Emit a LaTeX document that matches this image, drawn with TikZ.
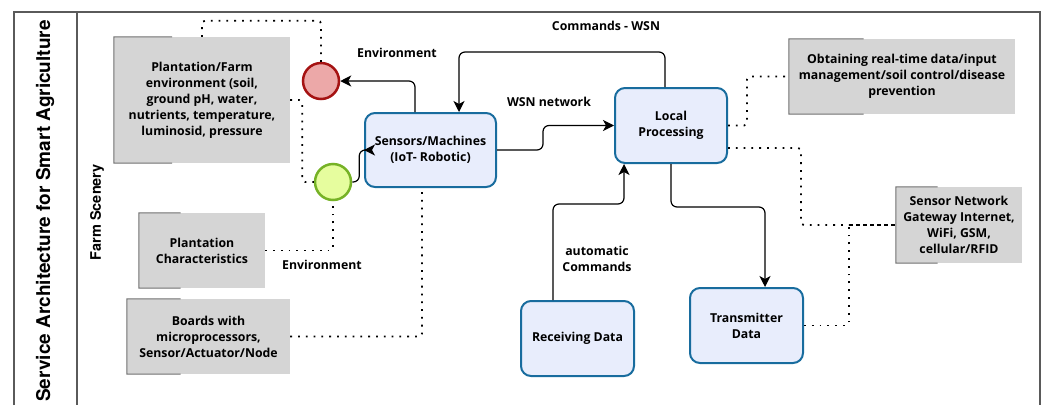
\documentclass[tikz,border=0pt]{standalone}
\usepackage{fontspec}
\setmainfont{Open Sans}
\newfontfamily\titlefont{TeX Gyre Heros}
\usetikzlibrary{arrows.meta,calc}
\definecolor{grayfill}{RGB}{213,213,213}
\definecolor{grayedge}{RGB}{110,110,110}
\definecolor{blueedge}{RGB}{24,108,158}
\definecolor{bluefill}{RGB}{232,237,252}
\definecolor{redfill}{RGB}{236,168,168}
\definecolor{rededge}{RGB}{165,18,18}
\definecolor{greenfill}{RGB}{230,253,158}
\definecolor{greenedge}{RGB}{118,178,38}
\definecolor{framecol}{RGB}{90,90,90}
\tikzset{
  txt/.style={font=\bfseries\fontsize{12.3}{16}\selectfont, align=center},
  graybox/.style={txt, fill=grayfill, inner sep=0pt},
  bluebox/.style={txt, fill=bluefill, draw=blueedge, line width=2pt, rounded corners=10pt, inner sep=0pt},
  circ/.style={circle, minimum size=36pt, inner sep=0pt, line width=2.5pt},
  conn/.style={draw=black, line width=1.2pt, rounded corners=6pt},
  arr/.style={conn, -{Stealth[length=11pt,width=11pt,inset=3pt]}},
  dotline/.style={draw=black, line width=1.8pt, dash pattern=on 1.8pt off 6pt, rounded corners=3pt},
  dashline/.style={draw=black, line width=1.8pt, dash pattern=on 4pt off 3pt},
  lbl/.style={txt},
  edgeline/.style={draw=grayedge, line width=1pt},
  ttl/.style={rotate=90, inner sep=0pt}
}
\begin{document}
\begin{tikzpicture}[x=1pt,y=-1pt]
\useasboundingbox (0,0) rectangle (1043,405);
% frame
\draw[framecol, line width=1.2pt] (14,405) -- (14,12) -- (1040,12) -- (1040,405);
\draw[framecol, line width=1.2pt] (77,12) -- (77,405);
\node[ttl, anchor=east, font=\titlefont\bfseries\fontsize{19}{22}\selectfont] (title) at (45,20) {Service Architecture for Smart Agriculture};
\node[ttl, font=\titlefont\bfseries\fontsize{14.5}{16}\selectfont] (scene) at (97,212) {Farm Scenery};

% gray boxes
\node[graybox, minimum width=176pt, minimum height=126pt] (g1) at (202,100) {Plantation/Farm\\environment (soil,\\ground pH, water,\\nutrients, temperature,\\luminosid, pressure};
\node[graybox, minimum width=126pt, minimum height=75pt] (g2) at (202,250.5) {Plantation\\Characteristics};
\node[graybox, minimum width=163pt, minimum height=75pt] (g3) at (208.5,336.5) {Boards with\\microprocessors,\\Sensor/Actuator/Node};
\node[graybox, minimum width=226pt, minimum height=75pt] (g4) at (902,76.5) {Obtaining real-time data/input\\management/soil control/disease\\prevention};
\node[graybox, minimum width=126pt, minimum height=76pt] (g5) at (959,225) {Sensor Network\\Gateway Internet,\\WiFi, GSM,\\cellular/RFID};
\foreach \n in {g1,g2,g3,g4,g5}{
  \draw[edgeline] ($(\n.north west)!0.33!(\n.north east)$) -- (\n.north west) -- (\n.south west) -- ($(\n.south west)!0.33!(\n.south east)$);
}

% blue boxes
\node[bluebox, minimum width=131pt, minimum height=74pt] (sens) at (430.5,150) {Sensors/Machines\\(IoT- Robotic)};
\node[bluebox, minimum width=112pt, minimum height=75pt] (lp) at (671,125.5) {Local\\Processing};
\node[bluebox, minimum width=113pt, minimum height=75pt] (rd) at (577.5,338.5) {Receiving Data};
\node[bluebox, minimum width=113pt, minimum height=75pt] (td) at (746.5,325.5) {Transmitter\\Data};

% circles
\node[circ, fill=redfill, draw=rededge] (red) at (321,81) {};
\node[circ, fill=greenfill, draw=greenedge] (green) at (333,182) {};

% labels
\node[lbl] (l1) at (397,53) {Environment};
\node[lbl] (l2) at (322,265) {Environment};
\node[lbl] (l3) at (606,26) {Commands - WSN};
\node[lbl] (l4) at (549,102) {WSN network};
\node[lbl] (l5) at (597,259) {automatic\\Commands};

% solid connectors
\draw[arr] (sens.north -| 415,0) |- (red.east);
\draw[arr] (green.east) -- ++(7,0) |- (sens.west);
\draw[arr] (sens.east) -- ++(46,0) |- (lp.west);
\draw[arr] (lp.north -| 665,0) -- ++(0,-35) -| (sens.north -| 459,0);
\draw[arr] (rd.north -| 553,0) -- ++(0,-96) -| (lp.south -| 624,0);
\draw[arr] (lp.south -| 671,0) -- ++(0,43) -| (td.north -| 765,0);

% dotted connectors
\coordinate (j) at (849,225);
\draw[dotline] (g1.north) -- ++(0,-16) -| (red.north);
\draw[dotline] (g1.east) -- ++(12,0) |- (green.west);
\draw[dotline] (g2.east) -| (green.south);
\draw[dotline] (g3.east) -| (sens.south -| 422,0);
\draw[dotline] (lp.east) -- ++(19,0) |- (g4.west);
\draw[dotline] (lp.east |- 0,148) -- ++(73,0) |- (j);
\draw[dotline] (td.east) -| (j);
\draw[dashline] (j) -- (g5.west);
\end{tikzpicture}
\end{document}
